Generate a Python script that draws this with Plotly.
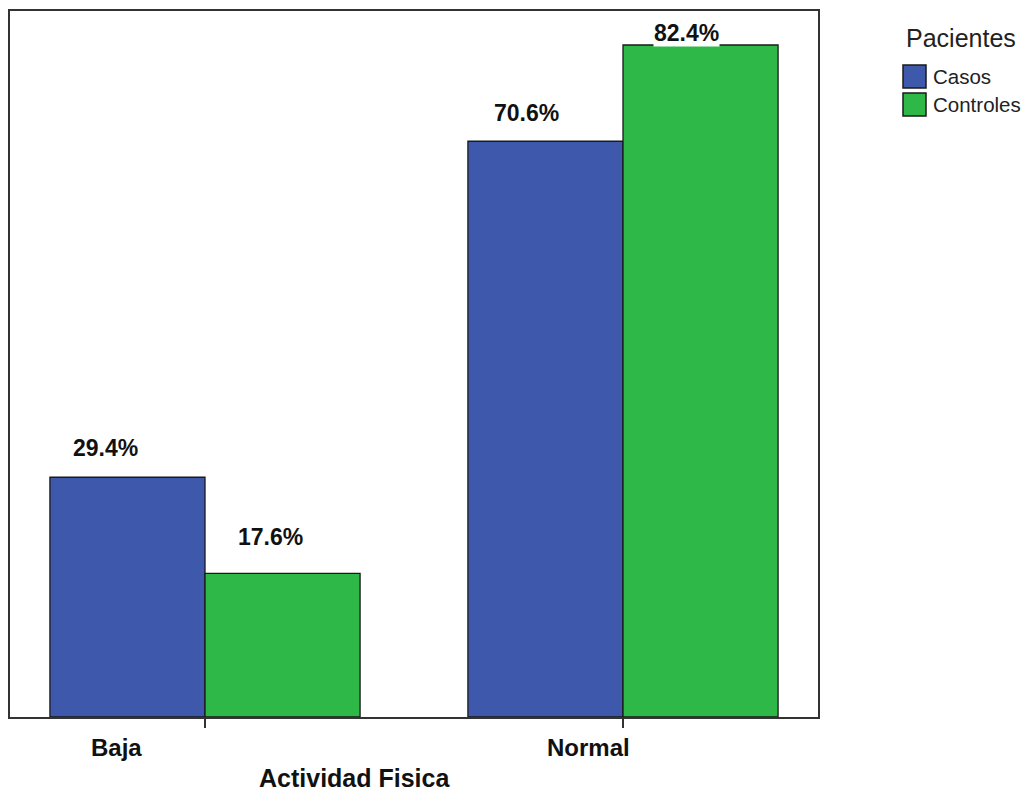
import plotly.graph_objects as go

# Data
categories = ["Baja", "Normal"]
series_names = ["Casos", "Controles"]
casos = [29.4, 70.6]
controles = [17.6, 82.4]
series_values = [casos, controles]
axis_title = "Actividad Fisica"
legend_title = "Pacientes"

# Styles
colors = ["#3E58AC", "#2EB848"]
W, H = 1026, 794
L, R, T, B = 10, 208, 11, 77
bargap = 0.258
font_family = "Arial, Liberation Sans, sans-serif"
text_color = "#111111"

# Per-label nudges (pixels) for the percentage labels: [category][series]
label_dx = [[-22, -12], [-19, -14]]
label_dy = [[29, 36], [28, 12]]
# Nudges for category names under the axis
cat_dx = [-89, -35]

fig = go.Figure()
for name, vals, col in zip(series_names, series_values, colors):
    fig.add_trace(go.Bar(
        x=categories, y=vals, name=name,
        marker=dict(color=col, line=dict(color="#1a1a1a", width=1.3)),
        showlegend=False,
    ))

annotations = []
half = (1 - bargap) / 4  # offset of each bar's centre from its category
for i, cat in enumerate(categories):
    for j, vals in enumerate(series_values):
        xpos = i + (-half if j == 0 else half)
        annotations.append(dict(
            x=xpos, y=vals[i], xref="x", yref="y",
            text=f"{vals[i]:.1f}%", showarrow=False,
            xanchor="center", yanchor="middle",
            xshift=label_dx[i][j], yshift=label_dy[i][j],
            font=dict(family=font_family, size=23, color=text_color, weight="bold"),
            bgcolor="white", borderpad=0,
        ))
    annotations.append(dict(
        x=i, y=0, xref="x", yref="paper", text=cat, showarrow=False,
        xanchor="center", yanchor="middle", xshift=cat_dx[i], yshift=-30,
        font=dict(family=font_family, size=24, color=text_color, weight="bold"),
    ))

pw, ph = W - L - R, H - T - B


def px(x):
    return (x - L) / pw


def py(y):
    return (H - B - y) / ph


annotations.append(dict(
    x=px(354), y=py(778), xref="paper", yref="paper", text=axis_title,
    showarrow=False, xanchor="center", yanchor="middle",
    font=dict(family=font_family, size=25, color=text_color, weight="bold"),
))

# Legend drawn by hand: title, swatches and entry names
annotations.append(dict(
    x=px(961), y=py(38), xref="paper", yref="paper", text=legend_title,
    showarrow=False, xanchor="center", yanchor="middle",
    font=dict(family=font_family, size=25, color="#222222"),
))
shapes = []
for k, (name, col) in enumerate(zip(series_names, colors)):
    top = 65 + k * 28
    shapes.append(dict(
        type="rect", xref="paper", yref="paper",
        x0=px(903), x1=px(926), y0=py(top + 23), y1=py(top),
        fillcolor=col, line=dict(color="#1a1a1a", width=1.5),
    ))
    annotations.append(dict(
        x=px(931), y=py(top + 11.5), xref="paper", yref="paper", text=name,
        showarrow=False, xanchor="left", yanchor="middle",
        font=dict(family=font_family, size=20.5, color="#222222"),
    ))

fig.update_layout(
    width=W, height=H,
    margin=dict(l=L, r=R, t=T, b=B),
    paper_bgcolor="white", plot_bgcolor="white",
    barmode="group", bargap=bargap, bargroupgap=0,
    annotations=annotations, shapes=shapes,
    showlegend=False,
)
fig.update_xaxes(
    type="category", range=[-0.4665, 1.4665],
    showline=True, mirror=True, linecolor="#333333", linewidth=2,
    ticks="outside", ticklen=9, tickwidth=1.5, tickcolor="#333333",
    showticklabels=False, showgrid=False, zeroline=False,
)
fig.update_yaxes(
    range=[0, 86.57],
    showline=True, mirror=True, linecolor="#333333", linewidth=2,
    ticks="", showticklabels=False, showgrid=False, zeroline=False,
)

fig.write_html("out.html")
